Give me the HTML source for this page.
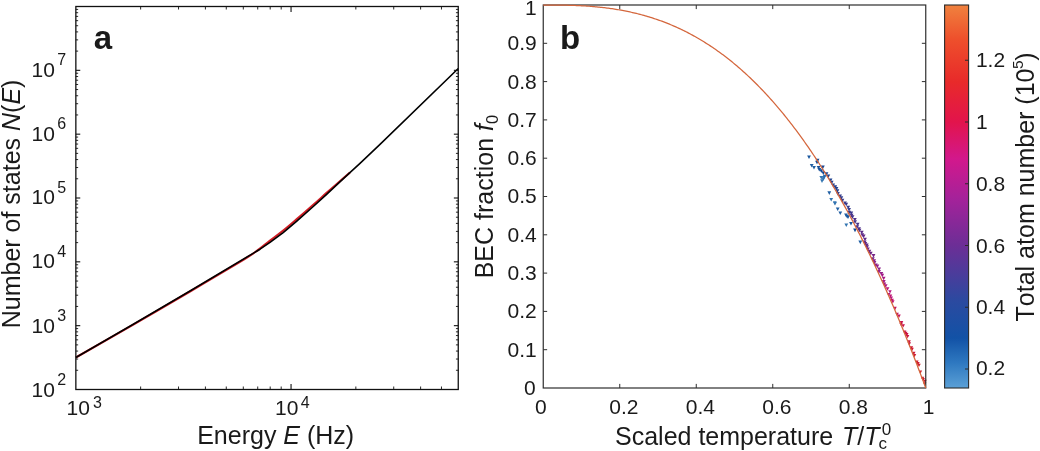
<!DOCTYPE html>
<html><head><meta charset="utf-8"><title>Figure</title>
<style>html,body{margin:0;padding:0;background:#fff;}svg{display:block;}text{font-family:"Liberation Sans",Arial,Helvetica,sans-serif;font-kerning:none;}</style>
</head><body>
<svg width="1040" height="451" viewBox="0 0 1040 451" font-family="Liberation Sans, Arial, Helvetica, sans-serif">
<path d="M75.85,357.50 C85.21,352.15 112.97,336.40 132.00,325.40 C151.03,314.40 172.00,302.08 190.00,291.50 C208.00,280.92 229.00,268.57 240.00,261.90 C251.00,255.23 251.00,255.05 256.00,251.50 C261.00,247.95 265.47,244.08 270.00,240.60 C274.53,237.12 278.78,234.13 283.20,230.60 C287.62,227.07 291.48,223.70 296.50,219.40 C301.52,215.10 308.28,209.22 313.30,204.80 C318.32,200.38 322.17,196.83 326.60,192.90 C331.03,188.97 336.02,184.58 339.90,181.20 C343.78,177.82 348.23,174.03 349.90,172.60" fill="none" stroke="#cf1c24" stroke-width="2.1"/>
<polyline points="75.85,357.50 132.00,325.00 190.00,291.00 260.00,249.20 270.00,242.30 283.20,232.60 296.50,221.30 313.30,206.50 326.60,194.30 339.90,181.90 349.90,172.60 360.00,163.30 380.00,144.30 458.25,68.50" fill="none" stroke="#000" stroke-width="1.6" stroke-linejoin="round"/>
<rect x="75.85" y="6.5" width="382.4" height="383.0" fill="none" stroke="#111" stroke-width="1.3"/>
<line x1="75.85" y1="370.28" x2="78.15" y2="370.28" stroke="#111" stroke-width="0.9" />
<line x1="458.25" y1="370.28" x2="455.95" y2="370.28" stroke="#111" stroke-width="0.9" />
<line x1="75.85" y1="359.04" x2="78.15" y2="359.04" stroke="#111" stroke-width="0.9" />
<line x1="458.25" y1="359.04" x2="455.95" y2="359.04" stroke="#111" stroke-width="0.9" />
<line x1="75.85" y1="351.07" x2="78.15" y2="351.07" stroke="#111" stroke-width="0.9" />
<line x1="458.25" y1="351.07" x2="455.95" y2="351.07" stroke="#111" stroke-width="0.9" />
<line x1="75.85" y1="344.88" x2="78.15" y2="344.88" stroke="#111" stroke-width="0.9" />
<line x1="458.25" y1="344.88" x2="455.95" y2="344.88" stroke="#111" stroke-width="0.9" />
<line x1="75.85" y1="339.83" x2="78.15" y2="339.83" stroke="#111" stroke-width="0.9" />
<line x1="458.25" y1="339.83" x2="455.95" y2="339.83" stroke="#111" stroke-width="0.9" />
<line x1="75.85" y1="335.55" x2="78.15" y2="335.55" stroke="#111" stroke-width="0.9" />
<line x1="458.25" y1="335.55" x2="455.95" y2="335.55" stroke="#111" stroke-width="0.9" />
<line x1="75.85" y1="331.85" x2="78.15" y2="331.85" stroke="#111" stroke-width="0.9" />
<line x1="458.25" y1="331.85" x2="455.95" y2="331.85" stroke="#111" stroke-width="0.9" />
<line x1="75.85" y1="328.59" x2="78.15" y2="328.59" stroke="#111" stroke-width="0.9" />
<line x1="458.25" y1="328.59" x2="455.95" y2="328.59" stroke="#111" stroke-width="0.9" />
<line x1="75.85" y1="325.67" x2="80.25" y2="325.67" stroke="#111" stroke-width="1.1" />
<line x1="458.25" y1="325.67" x2="453.85" y2="325.67" stroke="#111" stroke-width="1.1" />
<line x1="75.85" y1="306.45" x2="78.15" y2="306.45" stroke="#111" stroke-width="0.9" />
<line x1="458.25" y1="306.45" x2="455.95" y2="306.45" stroke="#111" stroke-width="0.9" />
<line x1="75.85" y1="295.21" x2="78.15" y2="295.21" stroke="#111" stroke-width="0.9" />
<line x1="458.25" y1="295.21" x2="455.95" y2="295.21" stroke="#111" stroke-width="0.9" />
<line x1="75.85" y1="287.24" x2="78.15" y2="287.24" stroke="#111" stroke-width="0.9" />
<line x1="458.25" y1="287.24" x2="455.95" y2="287.24" stroke="#111" stroke-width="0.9" />
<line x1="75.85" y1="281.05" x2="78.15" y2="281.05" stroke="#111" stroke-width="0.9" />
<line x1="458.25" y1="281.05" x2="455.95" y2="281.05" stroke="#111" stroke-width="0.9" />
<line x1="75.85" y1="275.99" x2="78.15" y2="275.99" stroke="#111" stroke-width="0.9" />
<line x1="458.25" y1="275.99" x2="455.95" y2="275.99" stroke="#111" stroke-width="0.9" />
<line x1="75.85" y1="271.72" x2="78.15" y2="271.72" stroke="#111" stroke-width="0.9" />
<line x1="458.25" y1="271.72" x2="455.95" y2="271.72" stroke="#111" stroke-width="0.9" />
<line x1="75.85" y1="268.02" x2="78.15" y2="268.02" stroke="#111" stroke-width="0.9" />
<line x1="458.25" y1="268.02" x2="455.95" y2="268.02" stroke="#111" stroke-width="0.9" />
<line x1="75.85" y1="264.75" x2="78.15" y2="264.75" stroke="#111" stroke-width="0.9" />
<line x1="458.25" y1="264.75" x2="455.95" y2="264.75" stroke="#111" stroke-width="0.9" />
<line x1="75.85" y1="261.83" x2="80.25" y2="261.83" stroke="#111" stroke-width="1.1" />
<line x1="458.25" y1="261.83" x2="453.85" y2="261.83" stroke="#111" stroke-width="1.1" />
<line x1="75.85" y1="242.62" x2="78.15" y2="242.62" stroke="#111" stroke-width="0.9" />
<line x1="458.25" y1="242.62" x2="455.95" y2="242.62" stroke="#111" stroke-width="0.9" />
<line x1="75.85" y1="231.38" x2="78.15" y2="231.38" stroke="#111" stroke-width="0.9" />
<line x1="458.25" y1="231.38" x2="455.95" y2="231.38" stroke="#111" stroke-width="0.9" />
<line x1="75.85" y1="223.40" x2="78.15" y2="223.40" stroke="#111" stroke-width="0.9" />
<line x1="458.25" y1="223.40" x2="455.95" y2="223.40" stroke="#111" stroke-width="0.9" />
<line x1="75.85" y1="217.22" x2="78.15" y2="217.22" stroke="#111" stroke-width="0.9" />
<line x1="458.25" y1="217.22" x2="455.95" y2="217.22" stroke="#111" stroke-width="0.9" />
<line x1="75.85" y1="212.16" x2="78.15" y2="212.16" stroke="#111" stroke-width="0.9" />
<line x1="458.25" y1="212.16" x2="455.95" y2="212.16" stroke="#111" stroke-width="0.9" />
<line x1="75.85" y1="207.89" x2="78.15" y2="207.89" stroke="#111" stroke-width="0.9" />
<line x1="458.25" y1="207.89" x2="455.95" y2="207.89" stroke="#111" stroke-width="0.9" />
<line x1="75.85" y1="204.19" x2="78.15" y2="204.19" stroke="#111" stroke-width="0.9" />
<line x1="458.25" y1="204.19" x2="455.95" y2="204.19" stroke="#111" stroke-width="0.9" />
<line x1="75.85" y1="200.92" x2="78.15" y2="200.92" stroke="#111" stroke-width="0.9" />
<line x1="458.25" y1="200.92" x2="455.95" y2="200.92" stroke="#111" stroke-width="0.9" />
<line x1="75.85" y1="198.00" x2="80.25" y2="198.00" stroke="#111" stroke-width="1.1" />
<line x1="458.25" y1="198.00" x2="453.85" y2="198.00" stroke="#111" stroke-width="1.1" />
<line x1="75.85" y1="178.78" x2="78.15" y2="178.78" stroke="#111" stroke-width="0.9" />
<line x1="458.25" y1="178.78" x2="455.95" y2="178.78" stroke="#111" stroke-width="0.9" />
<line x1="75.85" y1="167.54" x2="78.15" y2="167.54" stroke="#111" stroke-width="0.9" />
<line x1="458.25" y1="167.54" x2="455.95" y2="167.54" stroke="#111" stroke-width="0.9" />
<line x1="75.85" y1="159.57" x2="78.15" y2="159.57" stroke="#111" stroke-width="0.9" />
<line x1="458.25" y1="159.57" x2="455.95" y2="159.57" stroke="#111" stroke-width="0.9" />
<line x1="75.85" y1="153.38" x2="78.15" y2="153.38" stroke="#111" stroke-width="0.9" />
<line x1="458.25" y1="153.38" x2="455.95" y2="153.38" stroke="#111" stroke-width="0.9" />
<line x1="75.85" y1="148.33" x2="78.15" y2="148.33" stroke="#111" stroke-width="0.9" />
<line x1="458.25" y1="148.33" x2="455.95" y2="148.33" stroke="#111" stroke-width="0.9" />
<line x1="75.85" y1="144.05" x2="78.15" y2="144.05" stroke="#111" stroke-width="0.9" />
<line x1="458.25" y1="144.05" x2="455.95" y2="144.05" stroke="#111" stroke-width="0.9" />
<line x1="75.85" y1="140.35" x2="78.15" y2="140.35" stroke="#111" stroke-width="0.9" />
<line x1="458.25" y1="140.35" x2="455.95" y2="140.35" stroke="#111" stroke-width="0.9" />
<line x1="75.85" y1="137.09" x2="78.15" y2="137.09" stroke="#111" stroke-width="0.9" />
<line x1="458.25" y1="137.09" x2="455.95" y2="137.09" stroke="#111" stroke-width="0.9" />
<line x1="75.85" y1="134.17" x2="80.25" y2="134.17" stroke="#111" stroke-width="1.1" />
<line x1="458.25" y1="134.17" x2="453.85" y2="134.17" stroke="#111" stroke-width="1.1" />
<line x1="75.85" y1="114.95" x2="78.15" y2="114.95" stroke="#111" stroke-width="0.9" />
<line x1="458.25" y1="114.95" x2="455.95" y2="114.95" stroke="#111" stroke-width="0.9" />
<line x1="75.85" y1="103.71" x2="78.15" y2="103.71" stroke="#111" stroke-width="0.9" />
<line x1="458.25" y1="103.71" x2="455.95" y2="103.71" stroke="#111" stroke-width="0.9" />
<line x1="75.85" y1="95.74" x2="78.15" y2="95.74" stroke="#111" stroke-width="0.9" />
<line x1="458.25" y1="95.74" x2="455.95" y2="95.74" stroke="#111" stroke-width="0.9" />
<line x1="75.85" y1="89.55" x2="78.15" y2="89.55" stroke="#111" stroke-width="0.9" />
<line x1="458.25" y1="89.55" x2="455.95" y2="89.55" stroke="#111" stroke-width="0.9" />
<line x1="75.85" y1="84.49" x2="78.15" y2="84.49" stroke="#111" stroke-width="0.9" />
<line x1="458.25" y1="84.49" x2="455.95" y2="84.49" stroke="#111" stroke-width="0.9" />
<line x1="75.85" y1="80.22" x2="78.15" y2="80.22" stroke="#111" stroke-width="0.9" />
<line x1="458.25" y1="80.22" x2="455.95" y2="80.22" stroke="#111" stroke-width="0.9" />
<line x1="75.85" y1="76.52" x2="78.15" y2="76.52" stroke="#111" stroke-width="0.9" />
<line x1="458.25" y1="76.52" x2="455.95" y2="76.52" stroke="#111" stroke-width="0.9" />
<line x1="75.85" y1="73.25" x2="78.15" y2="73.25" stroke="#111" stroke-width="0.9" />
<line x1="458.25" y1="73.25" x2="455.95" y2="73.25" stroke="#111" stroke-width="0.9" />
<line x1="75.85" y1="70.33" x2="80.25" y2="70.33" stroke="#111" stroke-width="1.1" />
<line x1="458.25" y1="70.33" x2="453.85" y2="70.33" stroke="#111" stroke-width="1.1" />
<line x1="75.85" y1="51.12" x2="78.15" y2="51.12" stroke="#111" stroke-width="0.9" />
<line x1="458.25" y1="51.12" x2="455.95" y2="51.12" stroke="#111" stroke-width="0.9" />
<line x1="75.85" y1="39.88" x2="78.15" y2="39.88" stroke="#111" stroke-width="0.9" />
<line x1="458.25" y1="39.88" x2="455.95" y2="39.88" stroke="#111" stroke-width="0.9" />
<line x1="75.85" y1="31.90" x2="78.15" y2="31.90" stroke="#111" stroke-width="0.9" />
<line x1="458.25" y1="31.90" x2="455.95" y2="31.90" stroke="#111" stroke-width="0.9" />
<line x1="75.85" y1="25.72" x2="78.15" y2="25.72" stroke="#111" stroke-width="0.9" />
<line x1="458.25" y1="25.72" x2="455.95" y2="25.72" stroke="#111" stroke-width="0.9" />
<line x1="75.85" y1="20.66" x2="78.15" y2="20.66" stroke="#111" stroke-width="0.9" />
<line x1="458.25" y1="20.66" x2="455.95" y2="20.66" stroke="#111" stroke-width="0.9" />
<line x1="75.85" y1="16.39" x2="78.15" y2="16.39" stroke="#111" stroke-width="0.9" />
<line x1="458.25" y1="16.39" x2="455.95" y2="16.39" stroke="#111" stroke-width="0.9" />
<line x1="75.85" y1="12.69" x2="78.15" y2="12.69" stroke="#111" stroke-width="0.9" />
<line x1="458.25" y1="12.69" x2="455.95" y2="12.69" stroke="#111" stroke-width="0.9" />
<line x1="75.85" y1="9.42" x2="78.15" y2="9.42" stroke="#111" stroke-width="0.9" />
<line x1="458.25" y1="9.42" x2="455.95" y2="9.42" stroke="#111" stroke-width="0.9" />
<line x1="140.63" y1="389.50" x2="140.63" y2="386.50" stroke="#111" stroke-width="0.9" />
<line x1="140.63" y1="6.50" x2="140.63" y2="9.50" stroke="#111" stroke-width="0.9" />
<line x1="178.53" y1="389.50" x2="178.53" y2="386.50" stroke="#111" stroke-width="0.9" />
<line x1="178.53" y1="6.50" x2="178.53" y2="9.50" stroke="#111" stroke-width="0.9" />
<line x1="205.41" y1="389.50" x2="205.41" y2="386.50" stroke="#111" stroke-width="0.9" />
<line x1="205.41" y1="6.50" x2="205.41" y2="9.50" stroke="#111" stroke-width="0.9" />
<line x1="226.27" y1="389.50" x2="226.27" y2="386.50" stroke="#111" stroke-width="0.9" />
<line x1="226.27" y1="6.50" x2="226.27" y2="9.50" stroke="#111" stroke-width="0.9" />
<line x1="243.31" y1="389.50" x2="243.31" y2="386.50" stroke="#111" stroke-width="0.9" />
<line x1="243.31" y1="6.50" x2="243.31" y2="9.50" stroke="#111" stroke-width="0.9" />
<line x1="257.72" y1="389.50" x2="257.72" y2="386.50" stroke="#111" stroke-width="0.9" />
<line x1="257.72" y1="6.50" x2="257.72" y2="9.50" stroke="#111" stroke-width="0.9" />
<line x1="270.19" y1="389.50" x2="270.19" y2="386.50" stroke="#111" stroke-width="0.9" />
<line x1="270.19" y1="6.50" x2="270.19" y2="9.50" stroke="#111" stroke-width="0.9" />
<line x1="281.20" y1="389.50" x2="281.20" y2="386.50" stroke="#111" stroke-width="0.9" />
<line x1="281.20" y1="6.50" x2="281.20" y2="9.50" stroke="#111" stroke-width="0.9" />
<line x1="291.05" y1="389.50" x2="291.05" y2="383.90" stroke="#111" stroke-width="1.1" />
<line x1="291.05" y1="6.50" x2="291.05" y2="12.10" stroke="#111" stroke-width="1.1" />
<line x1="355.83" y1="389.50" x2="355.83" y2="386.50" stroke="#111" stroke-width="0.9" />
<line x1="355.83" y1="6.50" x2="355.83" y2="9.50" stroke="#111" stroke-width="0.9" />
<line x1="393.73" y1="389.50" x2="393.73" y2="386.50" stroke="#111" stroke-width="0.9" />
<line x1="393.73" y1="6.50" x2="393.73" y2="9.50" stroke="#111" stroke-width="0.9" />
<line x1="420.61" y1="389.50" x2="420.61" y2="386.50" stroke="#111" stroke-width="0.9" />
<line x1="420.61" y1="6.50" x2="420.61" y2="9.50" stroke="#111" stroke-width="0.9" />
<line x1="441.47" y1="389.50" x2="441.47" y2="386.50" stroke="#111" stroke-width="0.9" />
<line x1="441.47" y1="6.50" x2="441.47" y2="9.50" stroke="#111" stroke-width="0.9" />
<text x="31.50" y="397.00" font-size="21" text-anchor="start" fill="#1a1a1a" >10</text>
<text x="57.30" y="385.40" font-size="16" text-anchor="start" fill="#1a1a1a" >2</text>
<text x="31.50" y="333.00" font-size="21" text-anchor="start" fill="#1a1a1a" >10</text>
<text x="57.30" y="321.40" font-size="16" text-anchor="start" fill="#1a1a1a" >3</text>
<text x="31.50" y="268.20" font-size="21" text-anchor="start" fill="#1a1a1a" >10</text>
<text x="57.30" y="256.60" font-size="16" text-anchor="start" fill="#1a1a1a" >4</text>
<text x="31.50" y="204.20" font-size="21" text-anchor="start" fill="#1a1a1a" >10</text>
<text x="57.30" y="192.60" font-size="16" text-anchor="start" fill="#1a1a1a" >5</text>
<text x="31.50" y="140.50" font-size="21" text-anchor="start" fill="#1a1a1a" >10</text>
<text x="57.30" y="128.90" font-size="16" text-anchor="start" fill="#1a1a1a" >6</text>
<text x="31.50" y="76.50" font-size="21" text-anchor="start" fill="#1a1a1a" >10</text>
<text x="57.30" y="64.90" font-size="16" text-anchor="start" fill="#1a1a1a" >7</text>
<text x="66.60" y="415.20" font-size="21" text-anchor="start" fill="#1a1a1a" >10</text>
<text x="92.90" y="407.80" font-size="16" text-anchor="start" fill="#1a1a1a" >3</text>
<text x="275.00" y="415.20" font-size="21" text-anchor="start" fill="#1a1a1a" >10</text>
<text x="300.70" y="407.80" font-size="16" text-anchor="start" fill="#1a1a1a" >4</text>
<text x="197.20" y="444.30" font-size="25" text-anchor="start" fill="#1a1a1a" >Energy <tspan font-style="italic">E</tspan> (Hz)</text>
<text transform="translate(19.5,328.3) rotate(-90)" font-size="25" fill="#1a1a1a">Number of states <tspan font-style="italic">N</tspan>(<tspan font-style="italic">E</tspan>)</text>
<text x="93.80" y="49.20" font-size="33" text-anchor="start" fill="#1a1a1a" font-weight="bold">a</text>
<path d="M807.10,155.38 L810.90,155.38 L809.00,159.00 Z" fill="#19569e"/>
<path d="M809.80,163.98 L813.60,163.98 L811.70,167.59 Z" fill="#205fa3"/>
<path d="M812.10,165.98 L815.90,165.98 L814.00,169.59 Z" fill="#205fa3"/>
<path d="M816.70,165.98 L820.50,165.98 L818.60,169.59 Z" fill="#16519a"/>
<path d="M817.40,167.98 L821.20,167.98 L819.30,171.59 Z" fill="#16519a"/>
<path d="M819.40,175.98 L823.20,175.98 L821.30,179.59 Z" fill="#3375b1"/>
<path d="M821.40,177.28 L825.20,177.28 L823.30,180.90 Z" fill="#3375b1"/>
<path d="M820.10,179.28 L823.90,179.28 L822.00,182.90 Z" fill="#3375b1"/>
<path d="M822.10,175.98 L825.90,175.98 L824.00,179.59 Z" fill="#3375b1"/>
<path d="M822.70,174.69 L826.50,174.69 L824.60,178.30 Z" fill="#296cac"/>
<path d="M827.40,191.28 L831.20,191.28 L829.30,194.90 Z" fill="#205fa3"/>
<path d="M829.30,197.88 L833.10,197.88 L831.20,201.50 Z" fill="#3375b1"/>
<path d="M832.90,201.19 L836.70,201.19 L834.80,204.80 Z" fill="#3375b1"/>
<path d="M833.10,201.98 L836.90,201.98 L835.00,205.59 Z" fill="#3375b1"/>
<path d="M835.80,207.38 L839.60,207.38 L837.70,211.00 Z" fill="#205fa3"/>
<path d="M838.40,211.38 L842.20,211.38 L840.30,215.00 Z" fill="#205fa3"/>
<path d="M845.10,214.69 L848.90,214.69 L847.00,218.30 Z" fill="#205fa3"/>
<path d="M844.10,213.38 L847.90,213.38 L846.00,217.00 Z" fill="#205fa3"/>
<path d="M846.10,215.38 L849.90,215.38 L848.00,219.00 Z" fill="#19569e"/>
<path d="M844.40,223.38 L848.20,223.38 L846.30,227.00 Z" fill="#3375b1"/>
<path d="M849.10,221.98 L852.90,221.98 L851.00,225.59 Z" fill="#19569e"/>
<path d="M853.10,228.58 L856.90,228.58 L855.00,232.19 Z" fill="#104995"/>
<path d="M858.40,240.58 L862.20,240.58 L860.30,244.19 Z" fill="#205fa3"/>
<path d="M815.10,160.69 L818.90,160.69 L817.00,164.30 Z" fill="#104995"/>
<path d="M819.40,169.28 L823.20,169.28 L821.30,172.90 Z" fill="#104995"/>
<path d="M821.40,171.28 L825.20,171.28 L823.30,174.90 Z" fill="#104995"/>
<path d="M815.62,158.67 L819.42,158.67 L817.52,162.28 Z" fill="#144894"/>
<path d="M820.93,165.61 L824.73,165.61 L822.83,169.22 Z" fill="#1a4692"/>
<path d="M824.60,172.24 L828.40,172.24 L826.50,175.85 Z" fill="#194793"/>
<path d="M826.42,174.38 L830.22,174.38 L828.32,177.99 Z" fill="#1e4591"/>
<path d="M828.63,178.54 L832.43,178.54 L830.53,182.15 Z" fill="#224490"/>
<path d="M829.78,180.78 L833.58,180.78 L831.68,184.39 Z" fill="#254290"/>
<path d="M831.26,183.40 L835.06,183.40 L833.16,187.01 Z" fill="#244390"/>
<path d="M833.32,185.27 L837.12,185.27 L835.22,188.88 Z" fill="#294190"/>
<path d="M834.55,187.08 L838.35,187.08 L836.45,190.69 Z" fill="#224390"/>
<path d="M835.53,189.34 L839.33,189.34 L837.43,192.95 Z" fill="#244390"/>
<path d="M836.02,192.05 L839.82,192.05 L837.92,195.66 Z" fill="#2e3f8f"/>
<path d="M838.19,194.42 L841.99,194.42 L840.09,198.03 Z" fill="#363c8d"/>
<path d="M839.43,196.28 L843.23,196.28 L841.33,199.89 Z" fill="#333d8e"/>
<path d="M840.52,198.85 L844.32,198.85 L842.42,202.46 Z" fill="#3a3a8d"/>
<path d="M843.07,201.44 L846.87,201.44 L844.97,205.05 Z" fill="#3a3a8d"/>
<path d="M844.35,202.70 L848.15,202.70 L846.25,206.31 Z" fill="#3b398c"/>
<path d="M846.32,205.73 L850.12,205.73 L848.22,209.34 Z" fill="#373b8d"/>
<path d="M847.18,207.98 L850.98,207.98 L849.08,211.59 Z" fill="#353c8e"/>
<path d="M847.42,210.73 L851.22,210.73 L849.32,214.34 Z" fill="#393a8d"/>
<path d="M849.40,211.62 L853.20,211.62 L851.30,215.23 Z" fill="#3b398c"/>
<path d="M849.67,213.86 L853.47,213.86 L851.57,217.47 Z" fill="#4b328a"/>
<path d="M850.62,215.36 L854.42,215.36 L852.52,218.97 Z" fill="#47348a"/>
<path d="M852.93,217.96 L856.73,217.96 L854.83,221.57 Z" fill="#503089"/>
<path d="M853.16,220.29 L856.96,220.29 L855.06,223.90 Z" fill="#48348a"/>
<path d="M855.79,222.73 L859.59,222.73 L857.69,226.34 Z" fill="#48348a"/>
<path d="M855.28,225.21 L859.08,225.21 L857.18,228.82 Z" fill="#4a338a"/>
<path d="M857.16,227.13 L860.96,227.13 L859.06,230.74 Z" fill="#4e3189"/>
<path d="M857.57,228.74 L861.37,228.74 L859.47,232.35 Z" fill="#512f89"/>
<path d="M859.87,230.64 L863.67,230.64 L861.77,234.25 Z" fill="#5a2c87"/>
<path d="M860.41,233.33 L864.21,233.33 L862.31,236.94 Z" fill="#5e2a87"/>
<path d="M861.74,234.58 L865.54,234.58 L863.64,238.19 Z" fill="#622987"/>
<path d="M863.06,237.68 L866.86,237.68 L864.96,241.29 Z" fill="#5f2a87"/>
<path d="M862.77,240.52 L866.57,240.52 L864.67,244.13 Z" fill="#662887"/>
<path d="M863.47,242.10 L867.27,242.10 L865.37,245.71 Z" fill="#602987"/>
<path d="M864.87,243.56 L868.67,243.56 L866.77,247.17 Z" fill="#602a87"/>
<path d="M865.20,245.18 L869.00,245.18 L867.10,248.79 Z" fill="#632987"/>
<path d="M865.99,247.40 L869.79,247.40 L867.89,251.01 Z" fill="#752488"/>
<path d="M867.47,249.83 L871.27,249.83 L869.37,253.44 Z" fill="#6c2687"/>
<path d="M868.91,251.69 L872.71,251.69 L870.81,255.30 Z" fill="#6c2687"/>
<path d="M871.59,254.07 L875.39,254.07 L873.49,257.68 Z" fill="#772488"/>
<path d="M870.91,257.25 L874.71,257.25 L872.81,260.86 Z" fill="#742587"/>
<path d="M872.25,259.15 L876.05,259.15 L874.15,262.76 Z" fill="#862189"/>
<path d="M872.60,261.12 L876.40,261.12 L874.50,264.73 Z" fill="#8c2089"/>
<path d="M873.98,263.41 L877.78,263.41 L875.88,267.02 Z" fill="#882189"/>
<path d="M875.45,264.55 L879.25,264.55 L877.35,268.16 Z" fill="#941e8a"/>
<path d="M877.20,267.42 L881.00,267.42 L879.10,271.03 Z" fill="#8b2089"/>
<path d="M877.13,270.03 L880.93,270.03 L879.03,273.64 Z" fill="#991d88"/>
<path d="M879.47,271.89 L883.27,271.89 L881.37,275.50 Z" fill="#951e89"/>
<path d="M880.40,273.73 L884.20,273.73 L882.30,277.34 Z" fill="#a41b85"/>
<path d="M881.77,276.75 L885.57,276.75 L883.67,280.36 Z" fill="#a71a84"/>
<path d="M881.89,280.09 L885.69,280.09 L883.79,283.70 Z" fill="#a61b85"/>
<path d="M882.45,282.38 L886.25,282.38 L884.35,285.99 Z" fill="#a01b87"/>
<path d="M883.80,284.15 L887.60,284.15 L885.70,287.76 Z" fill="#b01881"/>
<path d="M885.61,287.19 L889.41,287.19 L887.51,290.80 Z" fill="#ba167e"/>
<path d="M888.24,290.15 L891.74,290.15 L889.99,293.47 Z" fill="#b41780"/>
<path d="M886.93,292.96 L890.43,292.96 L888.68,296.29 Z" fill="#b41780"/>
<path d="M888.77,294.47 L892.27,294.47 L890.52,297.79 Z" fill="#bf1472"/>
<path d="M889.49,296.50 L892.99,296.50 L891.24,299.83 Z" fill="#b9167e"/>
<path d="M890.45,298.79 L893.95,298.79 L892.20,302.12 Z" fill="#c2146a"/>
<path d="M891.08,300.20 L894.58,300.20 L892.83,303.52 Z" fill="#bf1472"/>
<path d="M893.25,306.83 L896.75,306.83 L895.00,310.16 Z" fill="#c31364"/>
<path d="M895.35,312.68 L898.85,312.68 L897.10,316.01 Z" fill="#c31363"/>
<path d="M897.25,314.57 L900.75,314.57 L899.00,317.90 Z" fill="#c5135f"/>
<path d="M899.72,321.10 L903.22,321.10 L901.47,324.43 Z" fill="#c8124f"/>
<path d="M899.34,322.86 L902.84,322.86 L901.09,326.18 Z" fill="#cc143f"/>
<path d="M901.46,324.13 L904.96,324.13 L903.21,327.46 Z" fill="#ca1248"/>
<path d="M902.86,330.59 L906.36,330.59 L904.61,333.92 Z" fill="#cb1245"/>
<path d="M904.03,331.86 L907.53,331.86 L905.78,335.18 Z" fill="#cb1244"/>
<path d="M905.06,333.03 L908.56,333.03 L906.81,336.35 Z" fill="#cb1341"/>
<path d="M905.83,334.94 L909.33,334.94 L907.58,338.27 Z" fill="#cc143f"/>
<path d="M907.34,340.29 L910.84,340.29 L909.09,343.62 Z" fill="#cd173b"/>
<path d="M907.52,342.24 L911.02,342.24 L909.27,345.57 Z" fill="#cb1341"/>
<path d="M909.63,346.28 L913.13,346.28 L911.38,349.60 Z" fill="#ce1b36"/>
<path d="M910.33,347.86 L913.83,347.86 L912.08,351.18 Z" fill="#ce1b36"/>
<path d="M911.98,351.86 L915.48,351.86 L913.73,355.19 Z" fill="#cd1939"/>
<path d="M912.74,354.04 L916.24,354.04 L914.49,357.37 Z" fill="#ce1c33"/>
<path d="M915.10,360.39 L918.60,360.39 L916.85,363.71 Z" fill="#cf1e30"/>
<path d="M916.18,362.08 L919.68,362.08 L917.93,365.41 Z" fill="#cf1d31"/>
<path d="M917.24,363.73 L920.74,363.73 L918.99,367.06 Z" fill="#cf202d"/>
<path d="M918.67,370.53 L922.17,370.53 L920.42,373.85 Z" fill="#cf212d"/>
<path d="M920.80,376.72 L924.30,376.72 L922.55,380.05 Z" fill="#cf1e31"/>
<path d="M921.44,377.97 L924.94,377.97 L923.19,381.30 Z" fill="#cf1e31"/>
<path d="M923.24,379.78 L926.74,379.78 L924.99,383.10 Z" fill="#cf1f2f"/>
<path d="M922.87,382.22 L926.37,382.22 L924.62,385.55 Z" fill="#d02725"/>
<rect x="543.25" y="5.0" width="382.5" height="383.0" fill="none" stroke="#2e2e2e" stroke-width="1.2"/>
<line x1="543.25" y1="349.70" x2="547.15" y2="349.70" stroke="#2e2e2e" stroke-width="1.0" />
<line x1="925.75" y1="349.70" x2="921.85" y2="349.70" stroke="#2e2e2e" stroke-width="1.0" />
<line x1="543.25" y1="311.40" x2="547.15" y2="311.40" stroke="#2e2e2e" stroke-width="1.0" />
<line x1="925.75" y1="311.40" x2="921.85" y2="311.40" stroke="#2e2e2e" stroke-width="1.0" />
<line x1="543.25" y1="273.10" x2="547.15" y2="273.10" stroke="#2e2e2e" stroke-width="1.0" />
<line x1="925.75" y1="273.10" x2="921.85" y2="273.10" stroke="#2e2e2e" stroke-width="1.0" />
<line x1="543.25" y1="234.80" x2="547.15" y2="234.80" stroke="#2e2e2e" stroke-width="1.0" />
<line x1="925.75" y1="234.80" x2="921.85" y2="234.80" stroke="#2e2e2e" stroke-width="1.0" />
<line x1="543.25" y1="196.50" x2="547.15" y2="196.50" stroke="#2e2e2e" stroke-width="1.0" />
<line x1="925.75" y1="196.50" x2="921.85" y2="196.50" stroke="#2e2e2e" stroke-width="1.0" />
<line x1="543.25" y1="158.20" x2="547.15" y2="158.20" stroke="#2e2e2e" stroke-width="1.0" />
<line x1="925.75" y1="158.20" x2="921.85" y2="158.20" stroke="#2e2e2e" stroke-width="1.0" />
<line x1="543.25" y1="119.90" x2="547.15" y2="119.90" stroke="#2e2e2e" stroke-width="1.0" />
<line x1="925.75" y1="119.90" x2="921.85" y2="119.90" stroke="#2e2e2e" stroke-width="1.0" />
<line x1="543.25" y1="81.60" x2="547.15" y2="81.60" stroke="#2e2e2e" stroke-width="1.0" />
<line x1="925.75" y1="81.60" x2="921.85" y2="81.60" stroke="#2e2e2e" stroke-width="1.0" />
<line x1="543.25" y1="43.30" x2="547.15" y2="43.30" stroke="#2e2e2e" stroke-width="1.0" />
<line x1="925.75" y1="43.30" x2="921.85" y2="43.30" stroke="#2e2e2e" stroke-width="1.0" />
<line x1="619.75" y1="388.00" x2="619.75" y2="383.90" stroke="#2e2e2e" stroke-width="1.0" />
<line x1="619.75" y1="5.00" x2="619.75" y2="9.10" stroke="#2e2e2e" stroke-width="1.0" />
<line x1="696.25" y1="388.00" x2="696.25" y2="383.90" stroke="#2e2e2e" stroke-width="1.0" />
<line x1="696.25" y1="5.00" x2="696.25" y2="9.10" stroke="#2e2e2e" stroke-width="1.0" />
<line x1="772.75" y1="388.00" x2="772.75" y2="383.90" stroke="#2e2e2e" stroke-width="1.0" />
<line x1="772.75" y1="5.00" x2="772.75" y2="9.10" stroke="#2e2e2e" stroke-width="1.0" />
<line x1="849.25" y1="388.00" x2="849.25" y2="383.90" stroke="#2e2e2e" stroke-width="1.0" />
<line x1="849.25" y1="5.00" x2="849.25" y2="9.10" stroke="#2e2e2e" stroke-width="1.0" />
<path d="M543.25,5.00 L544.52,5.00 L545.80,5.00 L547.08,5.00 L548.35,5.00 L549.62,5.01 L550.90,5.01 L552.17,5.02 L553.45,5.02 L554.73,5.03 L556.00,5.04 L557.27,5.05 L558.55,5.06 L559.83,5.08 L561.10,5.10 L562.38,5.12 L563.65,5.14 L564.92,5.16 L566.20,5.19 L567.48,5.22 L568.75,5.26 L570.02,5.29 L571.30,5.33 L572.58,5.37 L573.85,5.42 L575.12,5.47 L576.40,5.52 L577.67,5.57 L578.95,5.63 L580.23,5.70 L581.50,5.76 L582.77,5.83 L584.05,5.91 L585.33,5.99 L586.60,6.07 L587.88,6.16 L589.15,6.25 L590.42,6.35 L591.70,6.45 L592.98,6.55 L594.25,6.66 L595.52,6.78 L596.80,6.90 L598.08,7.02 L599.35,7.15 L600.62,7.28 L601.90,7.42 L603.17,7.57 L604.45,7.72 L605.73,7.87 L607.00,8.04 L608.27,8.20 L609.55,8.37 L610.83,8.55 L612.10,8.74 L613.38,8.93 L614.65,9.12 L615.92,9.32 L617.20,9.53 L618.48,9.75 L619.75,9.97 L621.02,10.19 L622.30,10.43 L623.58,10.66 L624.85,10.91 L626.12,11.16 L627.40,11.42 L628.67,11.69 L629.95,11.96 L631.23,12.24 L632.50,12.53 L633.77,12.82 L635.05,13.12 L636.33,13.43 L637.60,13.75 L638.88,14.07 L640.15,14.40 L641.42,14.74 L642.70,15.08 L643.98,15.44 L645.25,15.80 L646.52,16.17 L647.80,16.54 L649.08,16.93 L650.35,17.32 L651.62,17.72 L652.90,18.13 L654.17,18.54 L655.45,18.97 L656.73,19.40 L658.00,19.84 L659.27,20.29 L660.55,20.75 L661.83,21.21 L663.10,21.69 L664.38,22.17 L665.65,22.66 L666.92,23.17 L668.20,23.68 L669.48,24.19 L670.75,24.72 L672.02,25.26 L673.30,25.81 L674.58,26.36 L675.85,26.93 L677.12,27.50 L678.40,28.08 L679.67,28.68 L680.95,29.28 L682.23,29.89 L683.50,30.51 L684.77,31.14 L686.05,31.78 L687.33,32.43 L688.60,33.09 L689.88,33.76 L691.15,34.44 L692.42,35.14 L693.70,35.84 L694.98,36.55 L696.25,37.27 L697.52,38.00 L698.80,38.74 L700.08,39.49 L701.35,40.25 L702.62,41.03 L703.90,41.81 L705.17,42.60 L706.45,43.41 L707.73,44.23 L709.00,45.05 L710.27,45.89 L711.55,46.74 L712.83,47.60 L714.10,48.47 L715.38,49.35 L716.65,50.24 L717.92,51.14 L719.20,52.06 L720.48,52.99 L721.75,53.92 L723.02,54.87 L724.30,55.83 L725.58,56.81 L726.85,57.79 L728.12,58.79 L729.40,59.79 L730.67,60.81 L731.95,61.84 L733.23,62.89 L734.50,63.94 L735.77,65.01 L737.05,66.09 L738.33,67.18 L739.60,68.28 L740.88,69.40 L742.15,70.53 L743.42,71.67 L744.70,72.82 L745.98,73.98 L747.25,75.16 L748.52,76.35 L749.80,77.55 L751.08,78.77 L752.35,80.00 L753.62,81.24 L754.90,82.49 L756.17,83.76 L757.45,85.04 L758.73,86.33 L760.00,87.64 L761.27,88.96 L762.55,90.29 L763.83,91.64 L765.10,92.99 L766.38,94.37 L767.65,95.75 L768.92,97.15 L770.20,98.56 L771.48,99.99 L772.75,101.43 L774.03,102.88 L775.30,104.35 L776.58,105.83 L777.85,107.32 L779.12,108.83 L780.40,110.36 L781.67,111.89 L782.95,113.44 L784.23,115.01 L785.50,116.59 L786.77,118.18 L788.05,119.78 L789.33,121.41 L790.60,123.04 L791.88,124.69 L793.15,126.36 L794.42,128.04 L795.70,129.73 L796.98,131.44 L798.25,133.16 L799.53,134.90 L800.80,136.65 L802.08,138.42 L803.35,140.20 L804.62,142.00 L805.90,143.81 L807.17,145.63 L808.45,147.48 L809.73,149.33 L811.00,151.21 L812.28,153.09 L813.55,155.00 L814.83,156.91 L816.10,158.85 L817.38,160.80 L818.65,162.76 L819.92,164.74 L821.20,166.73 L822.47,168.75 L823.75,170.77 L825.03,172.81 L826.30,174.87 L827.58,176.95 L828.85,179.04 L830.12,181.14 L831.40,183.26 L832.67,185.40 L833.95,187.56 L835.22,189.73 L836.50,191.91 L837.78,194.11 L839.05,196.33 L840.33,198.57 L841.60,200.82 L842.88,203.09 L844.15,205.37 L845.42,207.67 L846.70,209.99 L847.97,212.32 L849.25,214.67 L850.52,217.04 L851.80,219.42 L853.08,221.82 L854.35,224.24 L855.62,226.68 L856.90,229.13 L858.17,231.60 L859.45,234.08 L860.72,236.58 L862.00,239.10 L863.27,241.64 L864.55,244.20 L865.83,246.77 L867.10,249.36 L868.38,251.96 L869.65,254.59 L870.92,257.23 L872.20,259.89 L873.47,262.56 L874.75,265.26 L876.02,267.97 L877.30,270.70 L878.58,273.44 L879.85,276.21 L881.12,278.99 L882.40,281.79 L883.67,284.61 L884.95,287.45 L886.22,290.30 L887.50,293.17 L888.77,296.06 L890.05,298.97 L891.33,301.90 L892.60,304.85 L893.88,307.81 L895.15,310.79 L896.42,313.79 L897.70,316.81 L898.98,319.85 L900.25,322.91 L901.52,325.98 L902.80,329.07 L904.08,332.19 L905.35,335.32 L906.62,338.47 L907.90,341.64 L909.17,344.82 L910.45,348.03 L911.73,351.25 L913.00,354.50 L914.27,357.76 L915.55,361.05 L916.83,364.35 L918.10,367.67 L919.38,371.01 L920.65,374.37 L921.92,377.75 L923.20,381.15 L924.48,384.56 L925.75,388.00" fill="none" stroke="#d4663c" stroke-width="1.25"/>
<text x="535.70" y="394.90" font-size="21" text-anchor="end" fill="#1a1a1a" >0</text>
<text x="536.80" y="356.60" font-size="21" text-anchor="end" fill="#1a1a1a" >0.1</text>
<text x="536.80" y="318.30" font-size="21" text-anchor="end" fill="#1a1a1a" >0.2</text>
<text x="536.80" y="280.00" font-size="21" text-anchor="end" fill="#1a1a1a" >0.3</text>
<text x="536.80" y="241.70" font-size="21" text-anchor="end" fill="#1a1a1a" >0.4</text>
<text x="536.80" y="203.40" font-size="21" text-anchor="end" fill="#1a1a1a" >0.5</text>
<text x="536.80" y="165.10" font-size="21" text-anchor="end" fill="#1a1a1a" >0.6</text>
<text x="536.80" y="126.80" font-size="21" text-anchor="end" fill="#1a1a1a" >0.7</text>
<text x="536.80" y="88.50" font-size="21" text-anchor="end" fill="#1a1a1a" >0.8</text>
<text x="536.80" y="50.20" font-size="21" text-anchor="end" fill="#1a1a1a" >0.9</text>
<text x="536.80" y="15.30" font-size="21" text-anchor="end" fill="#1a1a1a" >1</text>
<text x="540.90" y="414.20" font-size="21" text-anchor="middle" fill="#1a1a1a" >0</text>
<text x="623.95" y="414.20" font-size="21" text-anchor="middle" fill="#1a1a1a" >0.2</text>
<text x="700.45" y="414.20" font-size="21" text-anchor="middle" fill="#1a1a1a" >0.4</text>
<text x="776.95" y="414.20" font-size="21" text-anchor="middle" fill="#1a1a1a" >0.6</text>
<text x="853.45" y="414.20" font-size="21" text-anchor="middle" fill="#1a1a1a" >0.8</text>
<text x="928.60" y="414.20" font-size="21" text-anchor="middle" fill="#1a1a1a" >1</text>
<text x="615.00" y="445.00" font-size="25" text-anchor="start" fill="#1a1a1a" >Scaled temperature</text>
<text x="842.00" y="445.00" font-size="25" text-anchor="start" fill="#1a1a1a" ><tspan font-style="italic">T</tspan>/<tspan font-style="italic">T</tspan></text>
<text x="878.60" y="449.20" font-size="17" text-anchor="start" fill="#1a1a1a" >c</text>
<text x="881.80" y="435.30" font-size="17" text-anchor="start" fill="#1a1a1a" >0</text>
<text transform="translate(492.8,278.3) rotate(-90)" font-size="25" fill="#1a1a1a">BEC fraction <tspan font-style="italic">f</tspan><tspan font-size="16.5" dy="5">0</tspan></text>
<text x="560.00" y="49.20" font-size="33" text-anchor="start" fill="#1a1a1a" font-weight="bold">b</text>
<defs><linearGradient id="cb" x1="0" y1="1" x2="0" y2="0">
<stop offset="0.0000" stop-color="#5ba0d6"/>
<stop offset="0.0661" stop-color="#2e78c0"/>
<stop offset="0.1305" stop-color="#1252a6"/>
<stop offset="0.2272" stop-color="#2b4aa0"/>
<stop offset="0.3723" stop-color="#6c2e96"/>
<stop offset="0.4932" stop-color="#a4229a"/>
<stop offset="0.5979" stop-color="#d2188c"/>
<stop offset="0.6946" stop-color="#e2144c"/>
<stop offset="0.7994" stop-color="#e82a2a"/>
<stop offset="0.9122" stop-color="#ee502c"/>
<stop offset="1.0000" stop-color="#f0823e"/>
</linearGradient></defs>
<rect x="944.6" y="5.0" width="24.0" height="383.0" fill="url(#cb)" stroke="#2a2a2a" stroke-width="1.1"/>
<line x1="968.60" y1="369.00" x2="965.00" y2="369.00" stroke="#2a2a2a" stroke-width="1.0" />
<text x="975.90" y="375.00" font-size="21" text-anchor="start" fill="#1a1a1a" >0.2</text>
<line x1="968.60" y1="307.25" x2="965.00" y2="307.25" stroke="#2a2a2a" stroke-width="1.0" />
<text x="975.90" y="314.25" font-size="21" text-anchor="start" fill="#1a1a1a" >0.4</text>
<line x1="968.60" y1="245.50" x2="965.00" y2="245.50" stroke="#2a2a2a" stroke-width="1.0" />
<text x="975.90" y="252.50" font-size="21" text-anchor="start" fill="#1a1a1a" >0.6</text>
<line x1="968.60" y1="183.75" x2="965.00" y2="183.75" stroke="#2a2a2a" stroke-width="1.0" />
<text x="975.90" y="190.75" font-size="21" text-anchor="start" fill="#1a1a1a" >0.8</text>
<line x1="968.60" y1="122.00" x2="965.00" y2="122.00" stroke="#2a2a2a" stroke-width="1.0" />
<text x="975.90" y="129.00" font-size="21" text-anchor="start" fill="#1a1a1a" >1</text>
<line x1="968.60" y1="60.25" x2="965.00" y2="60.25" stroke="#2a2a2a" stroke-width="1.0" />
<text x="975.90" y="67.25" font-size="21" text-anchor="start" fill="#1a1a1a" >1.2</text>
<text transform="translate(1033.8,321.4) rotate(-90)" font-size="25" fill="#1a1a1a">Total atom number (10<tspan font-size="15.5" dy="-10.5" dx="-0.4">5</tspan><tspan dy="10.5" dx="-0.6">)</tspan></text>
</svg>
</body></html>
